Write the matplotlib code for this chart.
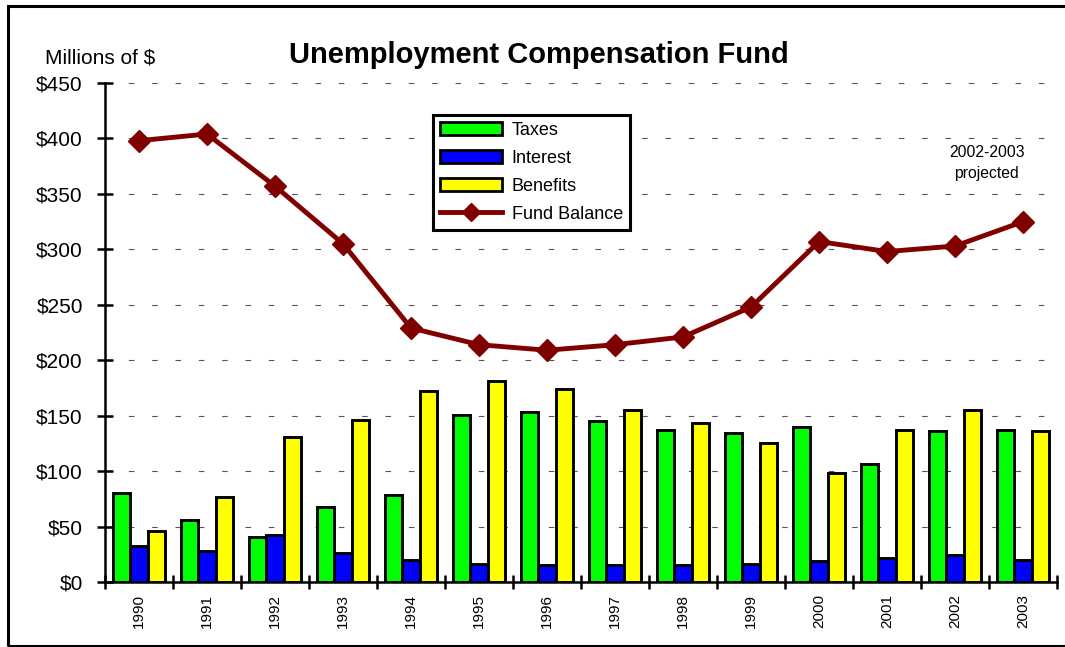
import matplotlib
matplotlib.use("Agg")
import matplotlib.pyplot as plt
import numpy as np
from matplotlib.lines import Line2D
from matplotlib.patches import Patch, Rectangle

plt.rcParams['font.family'] = ['Liberation Sans', 'DejaVu Sans']

years = ['1990', '1991', '1992', '1993', '1994', '1995', '1996',
         '1997', '1998', '1999', '2000', '2001', '2002', '2003']
taxes = [80, 56, 41, 68, 78, 151, 153, 145, 137, 134, 140, 106, 136, 137]
interest = [32, 28, 42, 26, 20, 16, 15, 15, 15, 16, 19, 22, 24, 20]
benefits = [46, 77, 131, 146, 172, 181, 174, 155, 143, 125, 98, 137, 155, 136]
fund_balance = [398, 404, 357, 305, 229, 214, 209, 214, 221, 248, 307, 298, 303, 325]
y_ticks = [0, 50, 100, 150, 200, 250, 300, 350, 400, 450]

fig = plt.figure(figsize=(10.65, 6.47), dpi=100)
ax = fig.add_axes([0.0986, 0.1005, 0.894, 0.7712])

x = np.arange(len(years))
w = 0.255
ax.bar(x - w, taxes, w, color='#00ff00', edgecolor='black', linewidth=2.1, zorder=3)
ax.bar(x, interest, w, color='#0000ff', edgecolor='black', linewidth=2.1, zorder=3)
ax.bar(x + w, benefits, w, color='#ffff00', edgecolor='black', linewidth=2.1, zorder=3)
ax.plot(x, fund_balance, color='#800000', linewidth=3.5, marker='D', markersize=11, zorder=4)

ax.set_xlim(-0.5, len(years) - 0.5)
ax.set_ylim(0, 450)
ax.set_yticks(y_ticks)
ax.set_yticklabels([f'${v}' for v in y_ticks], fontsize=15)
ax.set_xticks(np.arange(len(years) + 1) - 0.5)
ax.set_xticklabels([])
ax.set_xticks(x, minor=True)
ax.set_xticklabels(years, minor=True, rotation=90, fontsize=11)
ax.tick_params(axis='x', which='minor', length=0, pad=9)
ax.tick_params(axis='x', which='major', direction='inout', length=10, width=1.8)
ax.tick_params(axis='y', direction='inout', length=12, width=1.8, pad=10)

for s in ['top', 'right']:
    ax.spines[s].set_visible(False)
for s in ['left', 'bottom']:
    ax.spines[s].set_linewidth(1.8)
ax.yaxis.grid(True, linestyle=(0, (5, 16)), color='#555555', linewidth=0.8, zorder=0)
ax.set_axisbelow(True)

handles = [Patch(facecolor='#00ff00', edgecolor='black', linewidth=2),
           Patch(facecolor='#0000ff', edgecolor='black', linewidth=2),
           Patch(facecolor='#ffff00', edgecolor='black', linewidth=2),
           Line2D([], [], color='#800000', linewidth=3.5, marker='D', markersize=9)]
leg = ax.legend(handles, ['Taxes', 'Interest', 'Benefits', 'Fund Balance'],
                loc='upper left', bbox_to_anchor=(0.3445, 0.936), fontsize=13,
                frameon=True, fancybox=False, framealpha=1, edgecolor='black',
                handlelength=3.4, handleheight=0.75, labelspacing=0.6,
                borderpad=0.4, handletextpad=0.55, borderaxespad=0)
leg.get_frame().set_linewidth(2.2)
leg.set_zorder(5)

ax.text(0.926, 0.84, '2002-2003\nprojected', transform=ax.transAxes,
        ha='center', va='center', fontsize=11.3, linespacing=1.45)

fig.text(0.506, 0.915, 'Unemployment Compensation Fund', ha='center', va='center',
         fontsize=21, fontweight='bold')
fig.text(0.042, 0.911, 'Millions of $', ha='left', va='center', fontsize=15)

fig.patches.append(Rectangle((0.0075, 0.002), 1.1, 0.989, transform=fig.transFigure,
                             fill=False, edgecolor='black', linewidth=2.2))

fig.savefig('out.png', dpi=100)
